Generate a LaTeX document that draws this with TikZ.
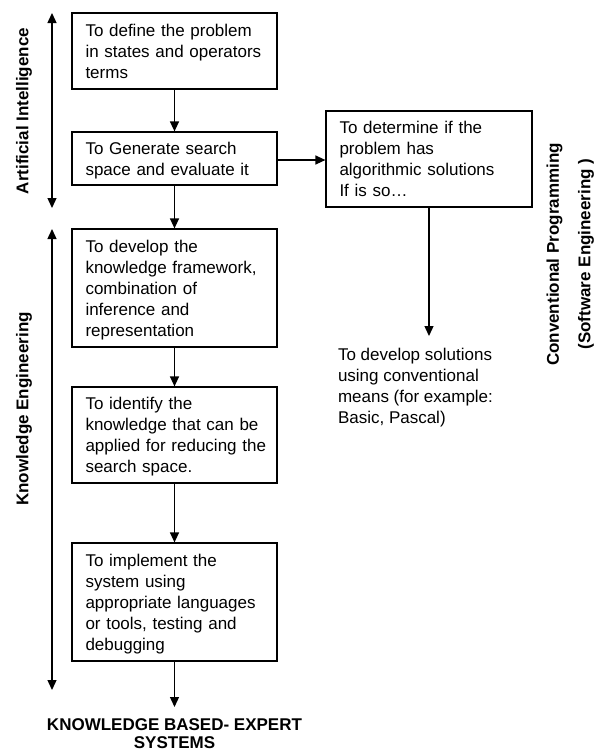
\documentclass[tikz,border=0pt]{standalone}
\usepackage{fontspec}
\setmainfont{Liberation Sans}
\usetikzlibrary{arrows.meta}
\newcommand\nodp[1]{\raisebox{0pt}[\height][0pt]{#1}}
\begin{document}
\begin{tikzpicture}[x=1pt,y=-1pt,
  txt/.style={font=\fontsize{17pt}{21pt}\selectfont},
  lbl/.style={font=\fontsize{17pt}{21pt}\selectfont\bfseries, inner sep=0pt, rotate=90},
  stepbox/.style={txt, draw, line width=1.2pt, inner xsep=13.5pt, inner ysep=0pt,
    text width=178pt, align=left, anchor=center},
  arr/.style={line width=1.3pt, -{Triangle[length=10pt,width=9pt]}},
  darr/.style={line width=1.3pt, {Triangle[length=10pt,width=9pt]}-{Triangle[length=10pt,width=9pt]}}]
\useasboundingbox (0,0) rectangle (594,753);

% left column boxes
\node[stepbox, minimum height=76pt] (b1) at (174.5,51)
  {To define the problem\\in states and operators\\\nodp{terms}};
\node[stepbox, minimum height=53pt] (b2) at (174.5,158.5)
  {To Generate search\\\nodp{space and evaluate it}};
\node[stepbox, minimum height=118pt] (b3) at (174.5,288)
  {To develop the\\knowledge framework,\\combination of\\inference and\\\nodp{representation}};
\node[stepbox, minimum height=96pt] (b4) at (174.5,435)
  {To identify the\\knowledge that can be\\\mbox{applied for reducing the}\\\nodp{search space.}};
\node[stepbox, minimum height=118pt] (b5) at (174.5,602)
  {To implement the\\system using\\appropriate languages\\or tools, testing and\\\nodp{debugging}};

% right box
\node[stepbox, text width=179pt, minimum height=96pt] (b6) at (429,159)
  {To determine if the\\problem has\\algorithmic solutions\\\nodp{If is so…}};

% free texts
\node[txt, align=left, inner sep=0pt, outer xsep=0pt, outer ysep=12pt, anchor=north west] (sol) at (338,336)
  {To develop solutions\\using conventional\\means (for example:\\Basic, Pascal)};
\node[font=\fontsize{17pt}{18pt}\selectfont\bfseries, align=center, inner sep=0pt, outer xsep=0pt, outer ysep=12pt, anchor=north] (kb) at (174.5,707)
  {KNOWLEDGE BASED- EXPERT\\SYSTEMS};

% flow arrows
\draw[arr] (b1) -- (b2);
\draw[arr] (b2) -- (b3);
\draw[arr] (b3) -- (b4);
\draw[arr] (b4) -- (b5);
\draw[arr] (b5) -- (kb);
\draw[arr] (b2.east |- 0,160) -- (b6.west |- 0,160);
\draw[arr] (b6.south) -- (b6.south |- sol.north);

% side brackets
\coordinate (ait) at (52,13);
\coordinate (aib) at (52,208);
\coordinate (ket) at (52,229);
\coordinate (keb) at (52,690);
\draw[darr] (ait) -- (aib);
\draw[darr] (ket) -- (keb);

% side labels
\node[lbl] (ai) at (24,111) {Artificial Intelligence};
\node[lbl] (ke) at (24,409) {Knowledge Engineering};
\node[lbl] (cp) at (554.6,254.5) {Conventional Programming};
\node[lbl] (se) at (586,254) {(Software Engineering )};
\end{tikzpicture}
\end{document}
